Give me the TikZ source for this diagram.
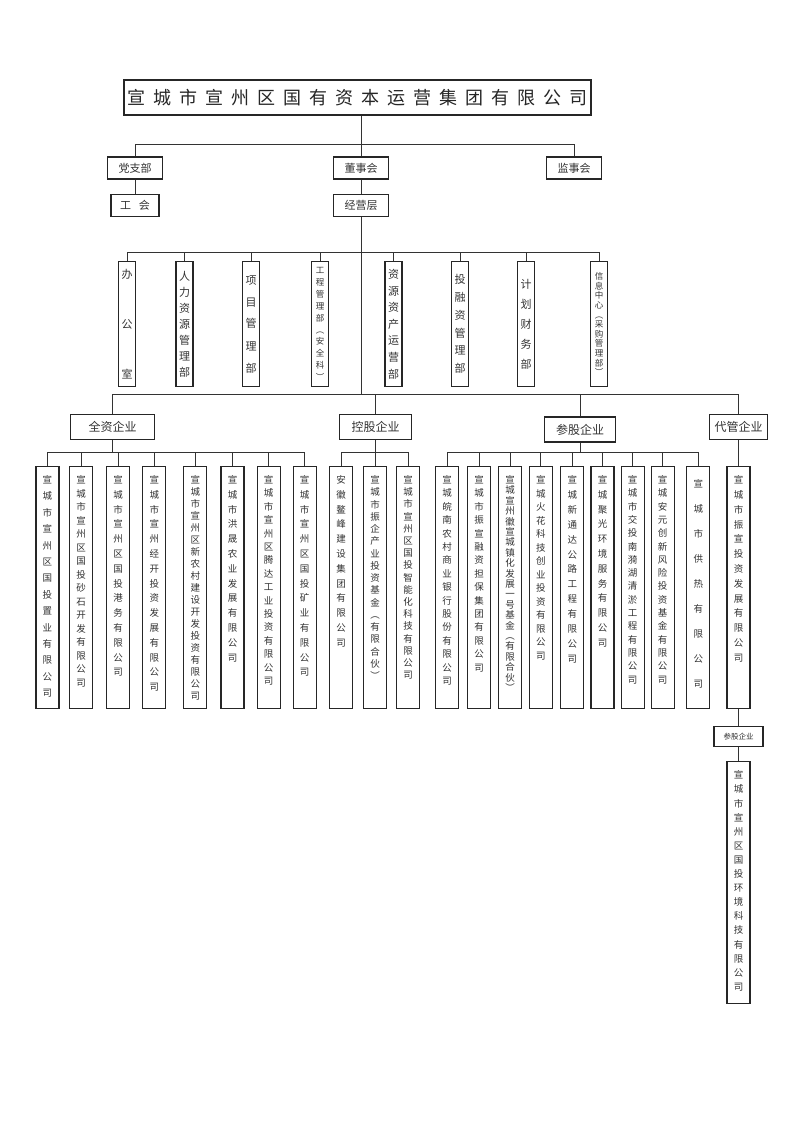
\documentclass[tikz,border=0pt]{standalone}
\usepackage{fontspec}
\newfontfamily\cjk{Noto Sans CJK SC}
\usetikzlibrary{positioning}
\newcommand\vt[1]{\parbox[t]{1.2em}{\centering #1}}
\tikzset{
  ln/.style  = {line width=0.8pt, draw=black!80},
  hd/.style  = {draw=black!85, line width=1.1pt, inner sep=0pt,
                minimum height=22pt, text=black!80,
                font=\cjk\fontsize{11}{13}\selectfont},
  grp/.style = {hd, minimum height=25pt, font=\cjk\fontsize{12}{14}\selectfont},
  dp/.style  = {draw=black!85, line width=1.1pt, inner sep=0pt,
                minimum width=17pt, minimum height=125pt, anchor=north,
                align=center, text=black!80,
                font=\cjk\fontsize{11}{#1}\selectfont},
  dp/.default = 14,
  dps/.style = {dp, font=\cjk\fontsize{8.5}{#1}\selectfont},
  ent/.style = {draw=black!85, line width=1.1pt, inner sep=0pt,
                minimum width=23pt, text height=17pt, text depth=225pt,
                anchor=north, text=black!80,
                font=\cjk\fontsize{9.5}{#1}\selectfont},
  ent/.default = 14
}
\begin{document}
\begin{tikzpicture}[x=1pt, y=-1pt]
  \path[use as bounding box, fill=white] (0,0) rectangle (800,1131);
  % top of the chart
  \node[draw=black!85, line width=1.4pt, minimum width=461pt, minimum height=35pt,
        text=black!85, font={\cjk\fontsize{18}{20}\selectfont}]
        (gs) at (357.5,97.5) {\spaceskip 8pt\relax 宣 城 市 宣 州 区 国 有 资 本 运 营 集 团 有 限 公 司};
  \node[hd, minimum width=55pt] (dzb) at (135,168) {党支部};
  \node[hd, minimum width=48pt, below=14pt of dzb] (gh) {工\hspace{8pt}会};
  \node[hd, minimum width=55pt] (dsh) at (361,168) {董事会};
  \node[hd, minimum width=55pt, below=14pt of dsh] (jyc) {经营层};
  \node[hd, minimum width=55pt] (jsh) at (574,168) {监事会};
  \coordinate (b0) at (0,144);
  \coordinate (b1) at (0,252);
  \coordinate (b2) at (0,394);
  \coordinate (b3) at (0,452);

  % departments
  \node[dp=50] (bm1) at (127,261) {办\\公\\室};
  \node[dp=16] (bm2) at (184.5,261) {人\\力\\资\\源\\管\\理\\部};
  \node[dp=22] (bm3) at (251,261) {项\\目\\管\\理\\部};
  \node[dps=11.9] (bm4) at (320,261) {工\\程\\管\\理\\部\\︵\\安\\全\\科\\︶};
  \node[dp=16.6] (bm5) at (393.5,261) {资\\源\\资\\产\\运\\营\\部};
  \node[dp=17.7] (bm6) at (460,261) {投\\融\\资\\管\\理\\部};
  \node[dp=20] (bm7) at (526,261) {计\\划\\财\\务\\部};
  \node[dps=9.6] (bm8) at (599,261) {信\\息\\中\\心\\︵\\采\\购\\管\\理\\部\\︶};

  % groups of companies
  \node[grp, minimum width=84pt] (qz) at (112.5,427) {全资企业};
  \node[grp, minimum width=72pt] (kz) at (375.5,427) {控股企业};
  \node[grp, minimum width=71pt] (cz) at (580,429.5) {参股企业};
  \node[grp, minimum width=58pt] (dz) at (738.5,427) {代管企业};

  \node[ent=16.4] (q1) at (47.5,466) {\vt{宣\\城\\市\\宣\\州\\区\\国\\投\\置\\业\\有\\限\\公\\司}};
  \node[ent=13.5, right=9.5pt of q1] (q2) {\vt{宣\\城\\市\\宣\\州\\区\\国\\投\\砂\\石\\开\\发\\有\\限\\公\\司}};
  \node[ent=14.8, right=13pt of q2] (q3) {\vt{宣\\城\\市\\宣\\州\\区\\国\\投\\港\\务\\有\\限\\公\\司}};
  \node[ent=14.8, right=12pt of q3] (q4) {\vt{宣\\城\\市\\宣\\州\\经\\开\\投\\资\\发\\展\\有\\限\\公\\司}};
  \node[ent=12, right=17pt of q4] (q5) {\vt{宣\\城\\市\\宣\\州\\区\\新\\农\\村\\建\\设\\开\\发\\投\\资\\有\\限\\公\\司}};
  \node[ent=14.8, right=13pt of q5] (q6) {\vt{宣\\城\\市\\洪\\晟\\农\\业\\发\\展\\有\\限\\公\\司}};
  \node[ent=13.4, right=12pt of q6] (q7) {\vt{宣\\城\\市\\宣\\州\\区\\腾\\达\\工\\业\\投\\资\\有\\限\\公\\司}};
  \node[ent=14.8, right=12pt of q7] (q8) {\vt{宣\\城\\市\\宣\\州\\区\\国\\投\\矿\\业\\有\\限\\公\\司}};

  \node[ent=14.8] (k1) at (341,466) {\vt{安\\徽\\鳌\\峰\\建\\设\\集\\团\\有\\限\\公\\司}};
  \node[ent=12.25, right=10pt of k1] (k2) {\vt{宣\\城\\市\\振\\企\\产\\业\\投\\资\\基\\金\\︵\\有\\限\\合\\伙\\︶}};
  \node[ent=12.2, right=9pt of k2] (k3) {\vt{宣\\城\\市\\宣\\州\\区\\国\\投\\智\\能\\化\\科\\技\\有\\限\\公\\司}};

  \node[ent=13.4] (c1) at (447,466) {\vt{宣\\城\\皖\\南\\农\\村\\商\\业\\银\\行\\股\\份\\有\\限\\公\\司}};
  \node[ent=13.4, right=8pt of c1] (c2) {\vt{宣\\城\\市\\振\\宣\\融\\资\\担\\保\\集\\团\\有\\限\\公\\司}};
  \node[ent=10.4, right=7pt of c2] (c3) {\vt{宣\\城\\宣\\州\\徽\\宣\\城\\镇\\化\\发\\展\\一\\号\\基\\金\\︵\\有\\限\\合\\伙\\︶}};
  \node[ent=13.5, right=6.5pt of c3] (c4) {\vt{宣\\城\\火\\花\\科\\技\\创\\业\\投\\资\\有\\限\\公\\司}};
  \node[ent=14.9, right=7.5pt of c4] (c5) {\vt{宣\\城\\新\\通\\达\\公\\路\\工\\程\\有\\限\\公\\司}};
  \node[ent=14.8, right=6pt of c5] (c6) {\vt{宣\\城\\聚\\光\\环\\境\\服\\务\\有\\限\\公\\司}};
  \node[ent=13.3, right=6pt of c6] (c7) {\vt{宣\\城\\市\\交\\投\\南\\漪\\湖\\清\\淤\\工\\程\\有\\限\\公\\司}};
  \node[ent=13.3, right=6pt of c7] (c8) {\vt{宣\\城\\安\\元\\创\\新\\风\\险\\投\\资\\基\\金\\有\\限\\公\\司}};
  \node[ent=25, text height=21pt, text depth=221pt, right=11.5pt of c8] (c9) {\vt{宣\\城\\市\\供\\热\\有\\限\\公\\司}};

  \node[ent=14.8, below=26pt of dz] (d1) {\vt{宣\\城\\市\\振\\宣\\投\\资\\发\\展\\有\\限\\公\\司}};
  \node[hd, minimum width=49pt, minimum height=20pt, font=\cjk\fontsize{7.5}{9}\selectfont,
        below=17pt of d1] (e0) {参股企业};
  \node[ent=14.1, below=14pt of e0] (e1) {\vt{宣\\城\\市\\宣\\州\\区\\国\\投\\环\\境\\科\\技\\有\\限\\公\\司}};

  % connectors
  \draw[ln] (gs.south -| dsh.north) -- (dsh.north);
  \draw[ln] (dzb.north) |- (b0 -| jsh.north) -- (jsh.north);
  \draw[ln] (dzb) -- (gh);
  \draw[ln] (dsh) -- (jyc);
  \draw[ln] (jyc.south) -- (jyc.south |- b2);

  \draw[ln] (bm1.north) |- (b1 -| bm8.north) -- (bm8.north);
  \draw[ln] (bm2.north) -- (bm2.north |- b1);
  \draw[ln] (bm3.north) -- (bm3.north |- b1);
  \draw[ln] (bm4.north) -- (bm4.north |- b1);
  \draw[ln] (bm5.north) -- (bm5.north |- b1);
  \draw[ln] (bm6.north) -- (bm6.north |- b1);
  \draw[ln] (bm7.north) -- (bm7.north |- b1);

  \draw[ln] (qz.north) |- (b2 -| dz.north) -- (dz.north);
  \draw[ln] (kz.north) -- (kz.north |- b2);
  \draw[ln] (cz.north) -- (cz.north |- b2);

  \draw[ln] (q1.north) |- (b3 -| q8.north) -- (q8.north);
  \draw[ln] (qz.south) -- (qz.south |- b3);
  \draw[ln] (q2.north) -- (q2.north |- b3);
  \draw[ln] (q3.north) -- (q3.north |- b3);
  \draw[ln] (q4.north) -- (q4.north |- b3);
  \draw[ln] (q5.north) -- (q5.north |- b3);
  \draw[ln] (q6.north) -- (q6.north |- b3);
  \draw[ln] (q7.north) -- (q7.north |- b3);

  \draw[ln] (k1.north) |- (b3 -| k3.north) -- (k3.north);
  \draw[ln] (kz.south) -- (kz.south |- b3);
  \draw[ln] (k2.north) -- (k2.north |- b3);

  \draw[ln] (c1.north) |- (b3 -| c9.north) -- (c9.north);
  \draw[ln] (cz.south) -- (cz.south |- b3);
  \draw[ln] (c2.north) -- (c2.north |- b3);
  \draw[ln] (c3.north) -- (c3.north |- b3);
  \draw[ln] (c4.north) -- (c4.north |- b3);
  \draw[ln] (c5.north) -- (c5.north |- b3);
  \draw[ln] (c6.north) -- (c6.north |- b3);
  \draw[ln] (c7.north) -- (c7.north |- b3);
  \draw[ln] (c8.north) -- (c8.north |- b3);

  \draw[ln] (dz) -- (d1);
  \draw[ln] (d1) -- (e0);
  \draw[ln] (e0) -- (e1);
\end{tikzpicture}
\end{document}
